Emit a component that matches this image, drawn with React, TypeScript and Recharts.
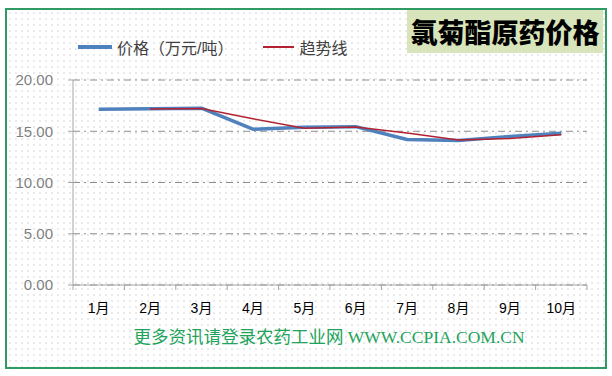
import React from 'react';
import { LineChart, Line, XAxis, YAxis, CartesianGrid } from 'recharts';

const months = ['1月', '2月', '3月', '4月', '5月', '6月', '7月', '8月', '9月', '10月'];
const price = [17.14, 17.2, 17.25, 15.2, 15.4, 15.45, 14.2, 14.1, 14.5, 14.8];
const trend = [null, 17.17, 17.22, 16.22, 15.3, 15.42, 14.82, 14.15, 14.3, 14.65];
const yTicks = [0, 5, 10, 15, 20];

const data = months.map((m, i) => ({ idx: i + 1, month: m, price: price[i], trend: trend[i] }));

// labels sit on whole numbers, little tick marks between categories
const xTicks: number[] = [];
for (let i = 0; i <= months.length; i++) {
    xTicks.push(i + 0.5);
    if (i < months.length) xTicks.push(i + 1);
}

const cjk = '"Liberation Sans", "Noto Sans CJK SC", sans-serif';

const MonthTick = (props: any) => {
    const { x, y, payload } = props;
    const v = payload.value;
    if (v % 1 !== 0) {
        return <line x1={x} y1={y} x2={x} y2={y + 5} stroke="#a6a6a6" strokeWidth={1} />;
    }
    return (
        <text x={x} y={y + 23} textAnchor="middle" dominantBaseline="central" fontSize={14} fill="#000" fontFamily={cjk}>
            {months[v - 1]}
        </text>
    );
};

export default function App() {
    return (
        <div style={{
            position: 'absolute', left: 0, top: 0, width: 612, height: 376, background: '#fff', fontFamily: cjk,
        }}>
            <div style={{
                position: 'absolute', left: 5, top: 8, width: 598, height: 357, border: '2px solid #2f9a63',
                backgroundColor: '#fff',
                backgroundImage: 'radial-gradient(circle, #e2e2e2 0.6px, transparent 1px)',
                backgroundSize: '6px 6px',
            }} />
            <div style={{
                position: 'absolute', left: 407, top: 10, width: 196, height: 43, background: '#d8e4bc',
                display: 'flex', alignItems: 'center', justifyContent: 'center',
                fontSize: 27, fontWeight: 900, color: '#000', fontFamily: '"Noto Sans CJK SC", sans-serif',
            }}>
                氯菊酯原药价格
            </div>
            <div style={{ position: 'absolute', left: 78, top: 36, height: 22, display: 'flex', alignItems: 'center', fontSize: 16, color: '#404040' }}>
                <span style={{ display: 'inline-block', width: 34, height: 4, background: '#4f81bd', marginRight: 5 }} />
                <span>价格（万元/吨）</span>
                <span style={{ display: 'inline-block', width: 31, height: 2, background: '#b22232', marginLeft: 30, marginRight: 5 }} />
                <span>趋势线</span>
            </div>
            <div style={{ position: 'absolute', left: 0, top: 0 }}>
                <LineChart width={612} height={376} data={data} margin={{ top: 80, right: 25, bottom: 61, left: 0 }}>
                    <CartesianGrid vertical={false} stroke="#8c8c8c" strokeDasharray="7 4 2 4" />
                    <XAxis
                        dataKey="idx"
                        type="number"
                        domain={[0.5, 10.5]}
                        ticks={xTicks}
                        interval={0}
                        height={30}
                        tickSize={0}
                        tickMargin={0}
                        tickLine={false}
                        tick={<MonthTick />}
                        axisLine={{ stroke: '#a6a6a6' }}
                    />
                    <YAxis
                        domain={[0, 20]}
                        ticks={yTicks}
                        width={73}
                        tickSize={5}
                        tickMargin={15}
                        tickLine={{ stroke: '#a6a6a6' }}
                        axisLine={{ stroke: '#a6a6a6' }}
                        tick={{ fontSize: 15, fill: '#7f7f7f', fontFamily: cjk }}
                        tickFormatter={(v: number) => v.toFixed(2)}
                    />
                    <Line dataKey="price" stroke="#4f81bd" strokeWidth={3.5} dot={false} isAnimationActive={false} strokeLinejoin="round" />
                    <Line dataKey="trend" stroke="#b22232" strokeWidth={1.5} dot={false} isAnimationActive={false} connectNulls={false} />
                </LineChart>
            </div>
            <div style={{
                position: 'absolute', left: 0, width: 612, top: 323, textAlign: 'center', paddingLeft: 46, boxSizing: 'border-box',
                fontSize: 17.5, color: '#21a35a', fontFamily: '"Liberation Serif", "Noto Sans CJK SC", serif', whiteSpace: 'nowrap',
            }}>
                更多资讯请登录农药工业网 WWW.CCPIA.COM.CN
            </div>
        </div>
    );
}
